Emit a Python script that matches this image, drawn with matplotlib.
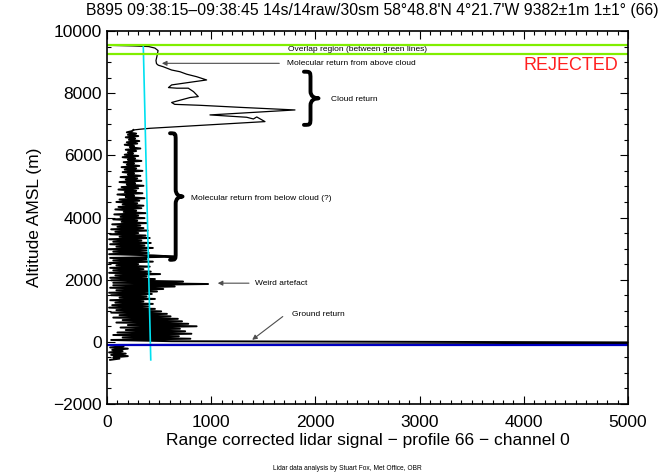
import matplotlib
matplotlib.use("Agg")
import matplotlib.pyplot as plt
from matplotlib.path import Path
from matplotlib.patches import PathPatch
from matplotlib.ticker import MultipleLocator

plt.rcParams['font.family'] = ['Liberation Sans', 'DejaVu Sans']

# profile 66: signal above / through the cloud (altitude m, signal)
cloud_alt = [9540, 9520, 9500, 9450, 9370, 9200, 9050, 8950, 8900, 8850, 8745, 8690,
             8610, 8530, 8425, 8350, 8265, 8180, 8160, 8160, 8050, 7890, 7860, 7700,
             7640, 7610, 7540, 7460, 7300, 7225, 7170, 7235, 7085, 6870, 6840, 6815]
cloud_sig = [0, 250, 400, 460, 490, 480, 470, 475, 492, 540, 620, 700,
             765, 860, 956, 797, 620, 590, 670, 780, 830, 876, 797, 620,
             650, 890, 1300, 1804, 988, 1340, 1405, 1437, 1516, 413, 317, 253]

# noisy molecular return below cloud down to the ground
low_alt = [6780, 6740, 6700, 6660, 6620, 6580, 6540, 6500, 6460, 6420,
           6380, 6340, 6300, 6260, 6220, 6180, 6140, 6100, 6060, 6020,
           5980, 5940, 5900, 5860, 5820, 5780, 5740, 5700, 5660, 5620,
           5580, 5540, 5500, 5460, 5420, 5380, 5340, 5300, 5260, 5220,
           5180, 5140, 5100, 5060, 5020, 4980, 4940, 4900, 4860, 4820,
           4780, 4740, 4700, 4660, 4620, 4580, 4540, 4500, 4460, 4420,
           4380, 4340, 4300, 4260, 4220, 4180, 4140, 4100, 4060, 4020,
           3980, 3940, 3900, 3860, 3820, 3780, 3740, 3700, 3660, 3620,
           3580, 3540, 3500, 3460, 3420, 3380, 3340, 3300, 3260, 3220,
           3180, 3140, 3100, 3060, 3020, 2980, 2940, 2900, 2860, 2820,
           2780, 2740, 2700, 2660, 2620, 2580, 2540, 2500, 2460, 2420,
           2380, 2340, 2300, 2260, 2220, 2180, 2140, 2100, 2060, 2020,
           1980, 1940, 1900, 1860, 1820, 1780, 1740, 1700, 1660, 1620,
           1580, 1540, 1500, 1460, 1420, 1380, 1340, 1300, 1260, 1220,
           1180, 1140, 1100, 1060, 1020, 980, 940, 900, 860, 820,
           780, 740, 700, 660, 620, 580, 540, 500, 460, 420,
           380, 340, 300, 260, 220, 180, 140, 100, 60, 20,
           -20, -40, -60, -100, -140, -180, -220, -260, -300, -340,
           -380, -420, -460, -500, -540, -580]
low_sig = [240, 190, 280, 200, 300, 180, 270, 210, 310, 190,
           290, 170, 260, 220, 320, 180, 280, 200, 250, 170,
           300, 150, 270, 200, 330, 160, 260, 190, 310, 140,
           280, 170, 340, 150, 260, 200, 320, 130, 290, 180,
           330, 120, 270, 190, 350, 140, 300, 110, 280, 170,
           340, 100, 260, 180, 360, 120, 310, 90, 290, 150,
           350, 110, 330, 80, 280, 160, 370, 70, 300, 130,
           360, 60, 290, 140, 380, 50, 320, 100, 350, 40,
           390, 80, 300, 30, 370, 120, 410, 20, 330, 60,
           420, 30, 360, 90, 440, 15, 380, 60, 400, 20,
           450, 650, 30, 380, 60, 440, 20, 300, 90, 410,
           30, 350, 60, 420, 20, 510, 80, 380, 30, 460,
           40, 730, 60, 970, 60, 650, 30, 540, 90, 480,
           20, 430, 40, 380, 120, 460, 30, 350, 80, 440,
           50, 400, 20, 460, 90, 520, 40, 575, 120, 610,
           60, 680, 150, 720, 90, 780, 200, 860, 130, 700,
           180, 750, 100, 810, 60, 690, 150, 800, 40, 620,
           5200, 5200, 5200, 90, 160, 30, 200, 50, 150, 20,
           180, 40, 200, 60, 120, 30]

# modelled molecular line, overlap region and ground level
model_sig = [348, 420]
model_alt = [9550, -580]
overlap_alt = [9250, 9550]
ground_alt = -96


def brace(ax, x0, width, top, bot, r=230):
    xm = x0 + width * 0.45
    mid = (top + bot) / 2.0
    verts = [(x0, top), (xm, top), (xm, top), (xm, top - r),
             (xm, mid + r),
             (xm, mid + r * 0.3), (x0 + width * 0.7, mid), (x0 + width, mid),
             (x0 + width * 0.7, mid), (xm, mid - r * 0.3), (xm, mid - r),
             (xm, bot + r),
             (xm, bot), (xm, bot), (x0, bot)]
    codes = [Path.MOVETO, Path.CURVE4, Path.CURVE4, Path.CURVE4,
             Path.LINETO,
             Path.CURVE4, Path.CURVE4, Path.CURVE4,
             Path.CURVE4, Path.CURVE4, Path.CURVE4,
             Path.LINETO,
             Path.CURVE4, Path.CURVE4, Path.CURVE4]
    ax.add_patch(PathPatch(Path(verts, codes), fill=False, lw=2.8,
                           color='black', capstyle='round', joinstyle='round'))


fig = plt.figure(figsize=(6.62, 4.76), dpi=100)
ax = fig.add_axes([107 / 662, 72 / 476, 521 / 662, 373 / 476])

ax.plot(cloud_sig, cloud_alt, color='black', lw=0.9)
ax.plot([cloud_sig[-1]] + low_sig, [cloud_alt[-1]] + low_alt, color='black', lw=1.4)
ax.plot(model_sig, model_alt, color='#00e0f0', lw=1.2)
for a in overlap_alt:
    ax.axhline(a, color='#80ee00', lw=1.6)
ax.axhline(ground_alt, color='#0000c0', lw=1.6)

ax.set_xlim(0, 5000)
ax.set_ylim(-2000, 10000)
ax.xaxis.set_major_locator(MultipleLocator(1000))
ax.xaxis.set_minor_locator(MultipleLocator(100))
ax.yaxis.set_major_locator(MultipleLocator(2000))
ax.yaxis.set_minor_locator(MultipleLocator(500))
ax.tick_params(which='both', direction='in', top=True, right=True, width=0.8)
ax.tick_params(which='major', length=6, labelsize=12.5)
ax.tick_params(axis='x', which='major', pad=8)
ax.tick_params(which='minor', length=3)
for s in ax.spines.values():
    s.set_linewidth(1.2)

ax.set_xlabel('Range corrected lidar signal \u2212 profile 66 \u2212 channel 0',
              fontsize=12.5, labelpad=2)
ax.set_ylabel('Altitude AMSL (m)', fontsize=12.5, labelpad=8)

fs = 6
ax.text(2400, 9400, 'Overlap region (between green lines)', fontsize=fs,
        ha='center', va='center')
ax.annotate('', xy=(500, 8960), xytext=(1680, 8960),
            arrowprops=dict(arrowstyle='-|>', color='0.3', lw=0.8, mutation_scale=7))
ax.text(1730, 8960, 'Molecular return from above cloud', fontsize=fs, va='center')
ax.text(4450, 8880, 'REJECTED', fontsize=13, color='#ff2020', ha='center', va='center')

brace(ax, 1890, 140, 8690, 6980)
ax.text(2150, 7810, 'Cloud return', fontsize=fs, va='center')
brace(ax, 605, 120, 6710, 2640)
ax.text(803, 4620, 'Molecular return from below cloud (?)', fontsize=fs, va='center')

ax.annotate('', xy=(1036, 1887), xytext=(1389, 1887),
            arrowprops=dict(arrowstyle='-|>', color='0.3', lw=0.8, mutation_scale=7))
ax.text(1420, 1887, 'Weird artefact', fontsize=fs, va='center')
ax.annotate('', xy=(1372, 10), xytext=(1708, 868),
            arrowprops=dict(arrowstyle='-|>', color='0.3', lw=0.8, mutation_scale=7))
ax.text(1772, 868, 'Ground return', fontsize=fs, va='center')

fig.text(0.994, 0.977,
         'B895 09:38:15\u201309:38:45 14s/14raw/30sm 58\u00b048.8\'N 4\u00b021.7\'W 9382\u00b11m 1\u00b11\u00b0 (66)',
         fontsize=11.3, ha='right', va='center')
fig.text(0.524, 0.015, 'Lidar data analysis by Stuart Fox, Met Office, OBR',
         fontsize=4.8, ha='center', va='center')

fig.savefig('out.png', dpi=100)
